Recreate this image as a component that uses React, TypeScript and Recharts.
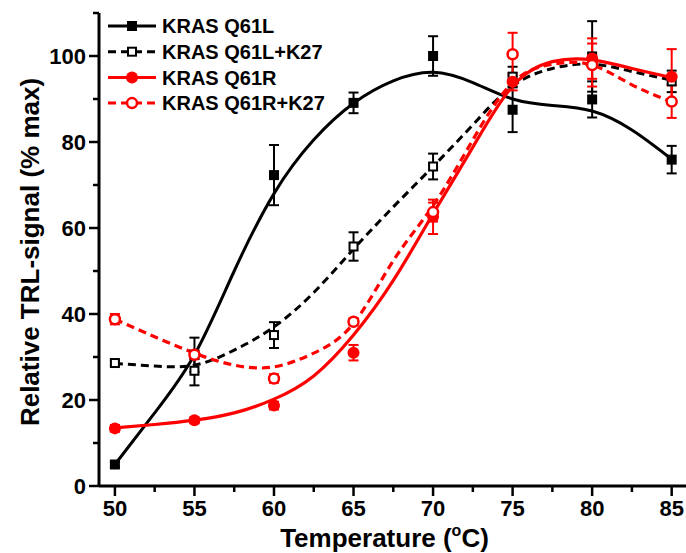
import {
  ComposedChart,
  ErrorBar,
  Legend,
  Line,
  Scatter,
  XAxis,
  YAxis,
} from "recharts";

// measured points
const temps = [50, 55, 60, 65, 70, 75, 80, 85];
const q61l = [5, 30.5, 72.3, 89.1, 100, 87.5, 89.9, 75.9];
const q61lErr = [0.6, 4, 7, 2.4, 4.6, 5.2, 4.2, 3.2];
const q61lK27 = [28.6, 26.8, 35.1, 55.7, 74.3, 95.2, 99.9, 94.1];
const q61lK27Err = [0.6, 3.4, 3, 3.3, 3, 2.3, 8.2, 2.5];
const q61r = [13.4, 15.3, 18.7, 31, 62.6, 94, 99.4, 95.2];
const q61rErr = [0.8, 0.7, 0.9, 1.8, 4, 2, 4.7, 6.4];
const q61rK27 = [38.8, 30.5, 25, 38.2, 63.7, 100.4, 97.9, 89.4];
const q61rK27Err = [1.2, 1, 1, 0.8, 2.2, 5, 5, 3.8];

// fitted curves
const fitTemps = [50, 52.5, 55, 57.5, 60, 62.5, 65, 67.5, 70, 72.5, 75, 77.5, 80, 82.5, 85];
const q61lFit = [5, 17, 30.5, 50, 68, 80.5, 89, 94.2, 96.2, 93.8, 90, 88.5, 87.2, 82.8, 76];
const q61lK27Fit = [28.5, 27.9, 28.1, 31.6, 37, 45, 55.1, 64.9, 74.3, 84, 93, 97.1, 98.1, 96.4, 94.4];
const q61rFit = [13.5, 14.3, 15.3, 17, 20.2, 25.6, 35.1, 47.8, 63.3, 78.8, 93, 98.7, 99.1, 97.1, 95];
const q61rK27Fit = [38.8, 34.7, 30.9, 28.1, 27.7, 30.9, 37.8, 52.4, 65.2, 80.5, 93.8, 98.1, 97.9, 93.3, 89.4];

const xTicks = [50, 52.5, 55, 57.5, 60, 62.5, 65, 67.5, 70, 72.5, 75, 77.5, 80, 82.5, 85];
const yTicks = [0, 10, 20, 30, 40, 50, 60, 70, 80, 90, 100, 110];

const seriesNames = ["KRAS Q61L", "KRAS Q61L+K27", "KRAS Q61R", "KRAS Q61R+K27"];

const FONT = '"Liberation Sans", Arial, sans-serif';
const RED = "#ff0000";
const BLACK = "#000000";

const points = (ys: number[], errs: number[]) =>
  temps.map((x, i) => ({ x, y: ys[i], err: errs[i] }));
const curve = (ys: number[]) => fitTemps.map((x, i) => ({ x, y: ys[i] }));

type Marker = "square" | "circle";

function markerShape(kind: Marker, color: string, hollow: boolean) {
  return (props: any) => {
    const { cx, cy } = props;
    if (cx == null || cy == null) return <g />;
    if (kind === "square") {
      const s = hollow ? 8 : 10;
      return (
        <rect
          x={cx - s / 2}
          y={cy - s / 2}
          width={s}
          height={s}
          fill={hollow ? "#fff" : color}
          stroke={color}
          strokeWidth={hollow ? 2 : 0}
        />
      );
    }
    return (
      <circle
        cx={cx}
        cy={cy}
        r={hollow ? 5 : 6}
        fill={hollow ? "#fff" : color}
        stroke={color}
        strokeWidth={hollow ? 2.5 : 0}
      />
    );
  };
}

function XTick(props: any) {
  const { x, y, payload } = props;
  const major = payload.value % 5 === 0;
  return (
    <g>
      <line x1={x} x2={x} y1={y} y2={y + (major ? 10 : 6)} stroke={BLACK} strokeWidth={2.5} />
      {major && (
        <text
          x={x}
          y={y + 14}
          dy="0.71em"
          textAnchor="middle"
          fontFamily={FONT}
          fontWeight="bold"
          fontSize={22}
          fill={BLACK}
        >
          {payload.value}
        </text>
      )}
    </g>
  );
}

function YTick(props: any) {
  const { x, y, payload } = props;
  const major = payload.value % 20 === 0;
  return (
    <g>
      <line x1={x} x2={x - (major ? 10 : 6)} y1={y} y2={y} stroke={BLACK} strokeWidth={2.5} />
      {major && (
        <text
          x={x - 13}
          y={y}
          dy="0.36em"
          textAnchor="end"
          fontFamily={FONT}
          fontWeight="bold"
          fontSize={22}
          fill={BLACK}
        >
          {payload.value}
        </text>
      )}
    </g>
  );
}

const legendItems = [
  { name: seriesNames[0], color: BLACK, dashed: false, kind: "square" as Marker, hollow: false },
  { name: seriesNames[1], color: BLACK, dashed: true, kind: "square" as Marker, hollow: true },
  { name: seriesNames[2], color: RED, dashed: false, kind: "circle" as Marker, hollow: false },
  { name: seriesNames[3], color: RED, dashed: true, kind: "circle" as Marker, hollow: true },
];

function ChartLegend() {
  return (
    <svg width={260} height={112}>
      {legendItems.map((item, i) => {
        const cy = 16 + i * 25.7;
        const Shape = markerShape(item.kind, item.color, item.hollow);
        return (
          <g key={item.name}>
            <line
              x1={8}
              x2={56}
              y1={cy}
              y2={cy}
              stroke={item.color}
              strokeWidth={3}
              strokeDasharray={item.dashed ? "8 5" : undefined}
            />
            <Shape cx={32} cy={cy} />
            <text
              x={62}
              y={cy}
              dy="0.36em"
              fontFamily={FONT}
              fontWeight="bold"
              fontSize={20}
              fill={BLACK}
            >
              {item.name}
            </text>
          </g>
        );
      })}
    </svg>
  );
}

export default function App() {
  return (
    <div style={{ position: "absolute", left: 0, top: 0, width: 686, height: 553, background: "#fff" }}>
      <ComposedChart width={686} height={553} margin={{ top: 13, right: 0, bottom: 0, left: 0 }}>
        <XAxis
          type="number"
          dataKey="x"
          domain={[49, 85.9]}
          allowDataOverflow
          ticks={xTicks}
          interval={0}
          tickSize={0}
          tickMargin={0}
          tickLine={false}
          tick={<XTick />}
          axisLine={{ stroke: BLACK, strokeWidth: 3 }}
          height={67}
          label={{
            content: (props: any) => {
              const vb = props.viewBox || { x: 99, y: 486, width: 587, height: 67 };
              return (
                <text
                  x={vb.x + vb.width / 2 - 8}
                  y={547}
                  textAnchor="middle"
                  fontFamily={FONT}
                  fontWeight="bold"
                  fontSize={26}
                  fill={BLACK}
                >
                  Temperature (
                  <tspan fontSize={16} dy={-11}>o</tspan>
                  <tspan dy={11}>C)</tspan>
                </text>
              );
            },
          }}
        />
        <YAxis
          type="number"
          domain={[0, 110]}
          allowDataOverflow
          ticks={yTicks}
          interval={0}
          tickSize={0}
          tickMargin={0}
          tickLine={false}
          tick={<YTick />}
          axisLine={{ stroke: BLACK, strokeWidth: 3 }}
          width={99}
          label={{
            content: () => (
              <text
                x={39}
                y={252}
                transform="rotate(-90, 39, 252)"
                textAnchor="middle"
                fontFamily={FONT}
                fontWeight="bold"
                fontSize={26}
                fill={BLACK}
              >
                Relative TRL-signal (% max)
              </text>
            ),
          }}
        />

        <Line data={curve(q61lFit)} dataKey="y" type="natural" stroke={BLACK} strokeWidth={3} dot={false} isAnimationActive={false} name={seriesNames[0]} />
        <Line data={curve(q61lK27Fit)} dataKey="y" type="natural" stroke={BLACK} strokeWidth={3} strokeDasharray="8 5" dot={false} isAnimationActive={false} name={seriesNames[1]} />
        <Line data={curve(q61rFit)} dataKey="y" type="natural" stroke={RED} strokeWidth={3.2} dot={false} isAnimationActive={false} name={seriesNames[2]} />
        <Line data={curve(q61rK27Fit)} dataKey="y" type="natural" stroke={RED} strokeWidth={3.2} strokeDasharray="8 5" dot={false} isAnimationActive={false} name={seriesNames[3]} />

        <Scatter data={points(q61l, q61lErr)} dataKey="y" shape={markerShape("square", BLACK, false)} isAnimationActive={false}>
          <ErrorBar dataKey="err" direction="y" width={5} stroke={BLACK} strokeWidth={2} isAnimationActive={false} />
        </Scatter>
        <Scatter data={points(q61lK27, q61lK27Err)} dataKey="y" shape={markerShape("square", BLACK, true)} isAnimationActive={false}>
          <ErrorBar dataKey="err" direction="y" width={5} stroke={BLACK} strokeWidth={2} isAnimationActive={false} />
        </Scatter>
        <Scatter data={points(q61r, q61rErr)} dataKey="y" shape={markerShape("circle", RED, false)} isAnimationActive={false}>
          <ErrorBar dataKey="err" direction="y" width={5} stroke={RED} strokeWidth={2} isAnimationActive={false} />
        </Scatter>
        <Scatter data={points(q61rK27, q61rK27Err)} dataKey="y" shape={markerShape("circle", RED, true)} isAnimationActive={false}>
          <ErrorBar dataKey="err" direction="y" width={5} stroke={RED} strokeWidth={2} isAnimationActive={false} />
        </Scatter>

        <Legend
          layout="vertical"
          align="center"
          verticalAlign="middle"
          wrapperStyle={{ left: 100, top: 10, width: 260, height: 112 }}
          content={() => <ChartLegend />}
        />
      </ComposedChart>
    </div>
  );
}
